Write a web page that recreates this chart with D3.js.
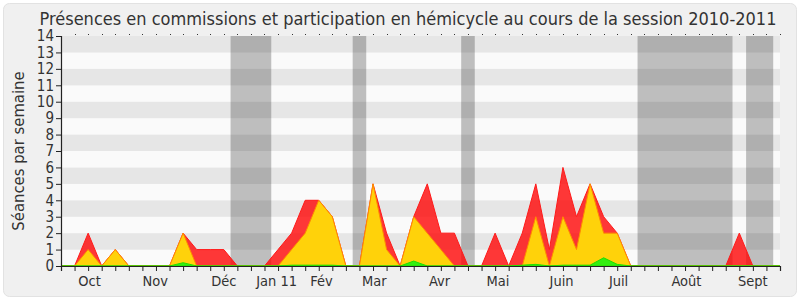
<!DOCTYPE html>
<html>
<head>
<meta charset="utf-8">
<script src="https://cdn.jsdelivr.net/npm/d3@7"></script>
<style>
    body { margin: 0; background: #fff; }
    svg text { font-family: "DejaVu Sans Condensed", "DejaVu Sans", sans-serif; fill: #333; }
</style>
</head>
<body>
<div id="chart"></div>
<script>
'use strict';

// One value per week of the session (week 0 .. 53).
var weeks = d3.range(0, 54);

var presenceTotal = [0, 0, 2, 0, 1, 0, 0, 0, 0, 2, 1, 1, 1, 0, 0, 0, 1, 2, 4, 4, 3, 0, 0, 5, 2, 0, 3,
    5, 2, 2, 0, 0, 2, 0, 2, 5, 1, 6, 3, 5, 3, 2, 0, 0, 0, 0, 0, 0, 0, 0, 2, 0, 0, 0];
var presenceCommission = [0, 0, 1, 0, 1, 0, 0, 0, 0, 2, 0, 0, 0, 0, 0, 0, 0, 1, 2, 4, 3, 0, 0, 5, 1, 0, 3,
    2, 1, 0, 0, 0, 0, 0, 0, 3, 0, 3, 1, 5, 2, 2, 0, 0, 0, 0, 0, 0, 0, 0, 0, 0, 0, 0];
var participation = [0, 0, 0, 0, 0, 0, 0, 0, 0, 0.2, 0, 0, 0, 0, 0, 0, 0, 0.05, 0.05, 0.05, 0.05, 0, 0, 0, 0, 0, 0.3,
    0, 0, 0, 0, 0, 0, 0, 0.05, 0.1, 0, 0.05, 0.05, 0.05, 0.5, 0.1, 0, 0, 0, 0, 0, 0, 0, 0, 0, 0, 0, 0];

// Holidays (no sessions), as week ranges.
var vacations = [[12.5, 15.5], [21.5, 22.5], [29.5, 30.5], [42.5, 49.5], [50.5, 52.5]];

// Month labels and the week where each one sits.
var monthLabels = ['Oct', 'Nov', 'Déc', 'Jan 11', 'Fév', 'Mar', 'Avr', 'Mai', 'Juin', 'Juil', 'Août', 'Sept'];
var monthWeeks = [2.1, 6.95, 12, 15.9, 19.2, 23.1, 27.9, 32.2, 36.9, 41.1, 46.1, 51];

var yTicks = d3.range(0, 15);

var width  = 800,
    height = 300,
    margin = {top: 36, right: 20, bottom: 34, left: 61};

var svg = d3.select('#chart').append('svg')
    .attr('width', width)
    .attr('height', height);

svg.append('rect')
    .attr('x', 3.5).attr('y', 3.5)
    .attr('width', width - 7).attr('height', height - 7)
    .attr('rx', 6)
    .attr('fill', '#f0f0f0')
    .attr('stroke', '#e2e2e2');

var x = d3.scaleLinear()
    .domain([0, 53])
    .range([margin.left, width - margin.right]);

var y = d3.scaleLinear()
    .domain([0, 14])
    .range([height - margin.bottom, margin.top]);

// Alternating horizontal bands.
svg.append('g').selectAll('rect')
    .data(d3.range(0, 14))
    .enter().append('rect')
    .attr('x', x(0))
    .attr('width', x(53) - x(0))
    .attr('y', function (d) { return y(d + 1); })
    .attr('height', function (d) { return y(d) - y(d + 1); })
    .attr('fill', function (d) { return d % 2 ? '#e6e6e6' : '#fafafa'; });

// Holidays.
svg.append('g').selectAll('rect')
    .data(vacations)
    .enter().append('rect')
    .attr('x', function (d) { return x(d[0]); })
    .attr('width', function (d) { return x(d[1]) - x(d[0]); })
    .attr('y', y(14))
    .attr('height', y(0) - y(14))
    .attr('fill', 'rgba(0,0,0,0.24)');

// Small dots along the top of the plot.
svg.append('g').selectAll('rect')
    .data(weeks.slice(1))
    .enter().append('rect')
    .attr('x', function (d) { return Math.round(x(d)); })
    .attr('y', y(14) - 2)
    .attr('width', 1).attr('height', 1)
    .attr('fill', '#333');

function drawArea(values, fill, stroke) {
    var area = d3.area()
        .x(function (d, i) { return x(weeks[i]); })
        .y0(y(0))
        .y1(function (d) { return y(d); });

    svg.append('path')
        .datum(values)
        .attr('d', area)
        .attr('fill', fill)
        .attr('stroke', stroke)
        .attr('stroke-width', 1);
}

drawArea(presenceTotal, 'rgba(255,0,0,0.78)', '#ff1a1a');
drawArea(presenceCommission, '#ffd20a', '#ff8c00');
drawArea(participation, '#33ee11', '#22dd00');

// Axes.
var yAxis = svg.append('g')
    .attr('transform', 'translate(' + x(0) + ',0)')
    .call(d3.axisLeft(y).tickValues(yTicks).tickSize(5).tickPadding(2));

var xAxis = svg.append('g')
    .attr('transform', 'translate(0,' + y(0) + ')')
    .call(d3.axisBottom(x).tickValues(weeks).tickSize(5).tickFormat(''));

[yAxis, xAxis].forEach(function (axis) {
    axis.selectAll('path,line').attr('stroke', '#222');
    axis.select('.domain').attr('stroke-width', 1.2);
});

yAxis.selectAll('text')
    .style('font-size', '15px')
    .attr('fill', '#333');

svg.append('g').selectAll('text')
    .data(monthLabels)
    .enter().append('text')
    .attr('x', function (d, i) { return x(monthWeeks[i]); })
    .attr('y', y(0) + 20)
    .attr('text-anchor', 'middle')
    .style('font-size', '14.5px')
    .text(function (d) { return d; });

svg.append('text')
    .attr('transform', 'translate(24,' + ((y(0) + y(14)) / 2) + ') rotate(-90)')
    .attr('text-anchor', 'middle')
    .style('font-size', '16.5px')
    .text('Séances par semaine');

svg.append('text')
    .attr('x', 408)
    .attr('y', 25)
    .attr('text-anchor', 'middle')
    .style('font-size', '18px')
    .text('Présences en commissions et participation en hémicycle au cours de la session 2010-2011');
</script>
</body>
</html>
